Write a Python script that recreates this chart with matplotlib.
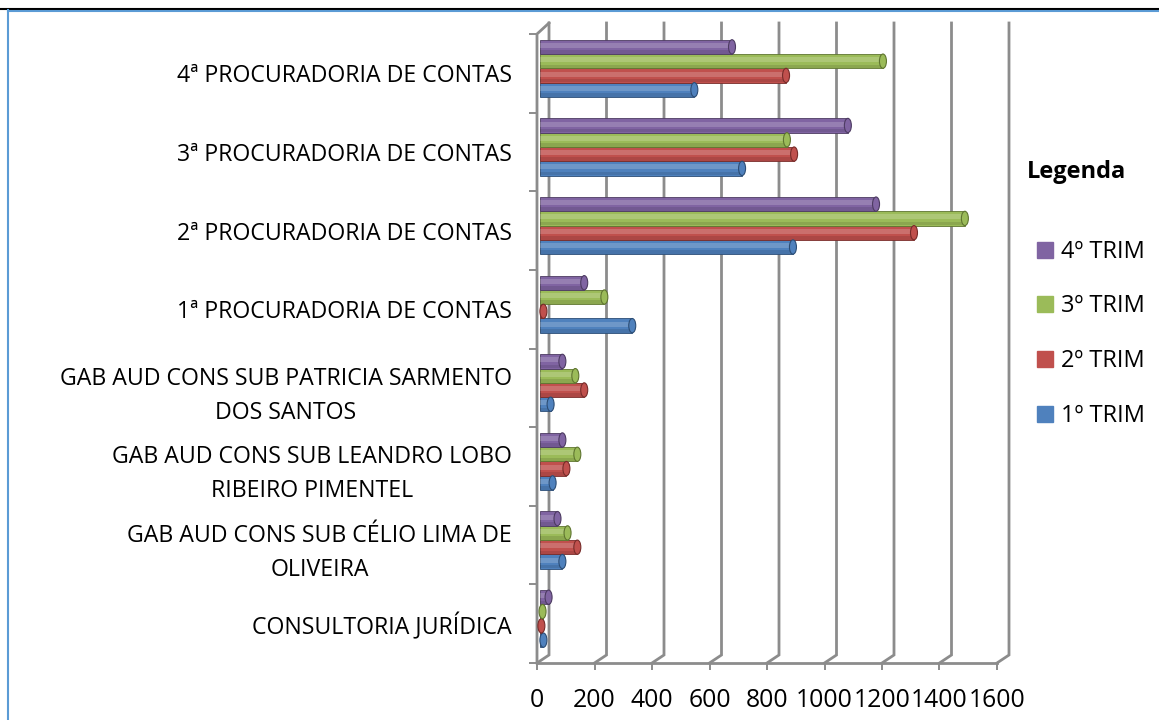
import numpy as np
import matplotlib
matplotlib.use('Agg')
import matplotlib.pyplot as plt
from matplotlib.patches import Ellipse
from matplotlib.lines import Line2D

plt.rcParams['font.family'] = ['Open Sans', 'DejaVu Sans']

## data, bottom category first
categories = ['CONSULTORIA JURÍDICA',
              'GAB AUD CONS SUB CÉLIO LIMA DE\nOLIVEIRA',
              'GAB AUD CONS SUB LEANDRO LOBO\nRIBEIRO PIMENTEL',
              'GAB AUD CONS SUB PATRICIA SARMENTO\nDOS SANTOS',
              '1ª PROCURADORIA DE CONTAS',
              '2ª PROCURADORIA DE CONTAS',
              '3ª PROCURADORIA DE CONTAS',
              '4ª PROCURADORIA DE CONTAS']
trim1 = [24, 90, 56, 49, 333, 892, 715, 549]
trim2 = [17, 142, 104, 166, 24, 1313, 896, 868]
trim3 = [21, 108, 142, 135, 236, 1490, 871, 1205]
trim4 = [42, 73, 90, 90, 166, 1181, 1083, 680]
series_names = ['1º TRIM', '2º TRIM', '3º TRIM', '4º TRIM']
series = [trim1, trim2, trim3, trim4]
colors = ['#4F81BD', '#C0504D', '#9BBB59', '#8064A2']
dark = ['#2C4D75', '#772C2A', '#5F7530', '#4D3B62']
xticks = list(range(0, 1601, 200))

W, H = 1159, 720
fig = plt.figure(figsize=(W/100, H/100), dpi=100)

# front plot area in pixels
x0, x1, ytop, ybot = 537, 997, 34, 663
ax = fig.add_axes([x0/W, 1-ybot/H, (x1-x0)/W, (ybot-ytop)/H])
ax.set_xlim(0, 1600)
ax.set_ylim(-0.5, 7.5)
ux = 1600/(x1-x0)   # data units per pixel
uy = 8/(ybot-ytop)

gcol = '#8C8C8C'
dx = 12*ux
back_bot = -0.5 + 8*uy
back_top = 7.5 + 11*uy

# back wall gridlines with the little 3D floor diagonals
for v in xticks:
    ax.plot([v, v+dx, v+dx], [-0.5, back_bot, back_top], color=gcol, lw=2,
            clip_on=False, zorder=1, solid_joinstyle='miter')
# left wall
ax.plot([0, 0, dx], [-0.5, 7.5, back_top], color=gcol, lw=2, clip_on=False, zorder=1)
ax.plot([0, 1600], [-0.5, -0.5], color=gcol, lw=2, clip_on=False, zorder=1)

# bars
h = 14.3*uy
yshift = 5*uy
left = 3*ux
capw = 7*ux
for i, vals in enumerate(series):
    for c, v in enumerate(vals):
        y = c + yshift + (i-1.5)*h
        w = max(v - capw/2, 0)
        ax.barh(y, w, left=left, height=h, color=colors[i], edgecolor=dark[i],
                linewidth=0.6, zorder=3)
        ax.barh(y + h*0.1, w, left=left, height=h*0.35, color='white',
                alpha=0.18, linewidth=0, zorder=4)
        ax.barh(y - h*0.36, w, left=left, height=h*0.25, color='black',
                alpha=0.1, linewidth=0, zorder=4)
        ax.add_patch(Ellipse((left+w, y), capw, h, facecolor=colors[i],
                             edgecolor=dark[i], lw=0.8, zorder=5))

for s in ax.spines.values():
    s.set_visible(False)

ax.set_xticks(xticks)
ax.set_xticklabels([str(t) for t in xticks], fontsize=17.8)
ax.tick_params(axis='x', length=7*0.72, width=1.4, color=gcol, pad=13)

ax.set_yticks(np.arange(-0.5, 8, 1))
ax.set_yticklabels([])
ax.tick_params(axis='y', which='major', length=8*0.72, width=1.4, color=gcol)
ax.set_yticks(np.arange(8), minor=True)
ax.set_yticklabels(categories, minor=True, fontsize=16.7)
ax.tick_params(axis='y', which='minor', length=0, pad=18)
for t in ax.get_yticklabels(minor=True):
    t.set_multialignment('center')
    t.set_linespacing(1.55)

# legend
fig.text(1027/W, 1-172/H, 'Legenda', fontsize=17, fontweight='bold', va='center')
handles = [Line2D([], [], marker='s', color=colors[i], linestyle='none', markersize=11)
           for i in [3, 2, 1, 0]]
fig.legend(handles, [series_names[i] for i in [3, 2, 1, 0]], loc='upper left',
           bbox_to_anchor=(1023/W, 1-228/H), frameon=False, fontsize=17,
           labelspacing=1.3, handletextpad=0.2, handlelength=0.9, borderpad=0)

# page frame
fig.add_artist(Line2D([0, 1], [1-9/H, 1-9/H], color='black', lw=1.5, transform=fig.transFigure))
fig.add_artist(Line2D([8/W, 1], [1-10.5/H, 1-10.5/H], color='#5B9BD5', lw=1.5, transform=fig.transFigure))
fig.add_artist(Line2D([8/W, 8/W], [0, 1-10/H], color='#5B9BD5', lw=1.5, transform=fig.transFigure))

fig.savefig('out.png', dpi=100)
